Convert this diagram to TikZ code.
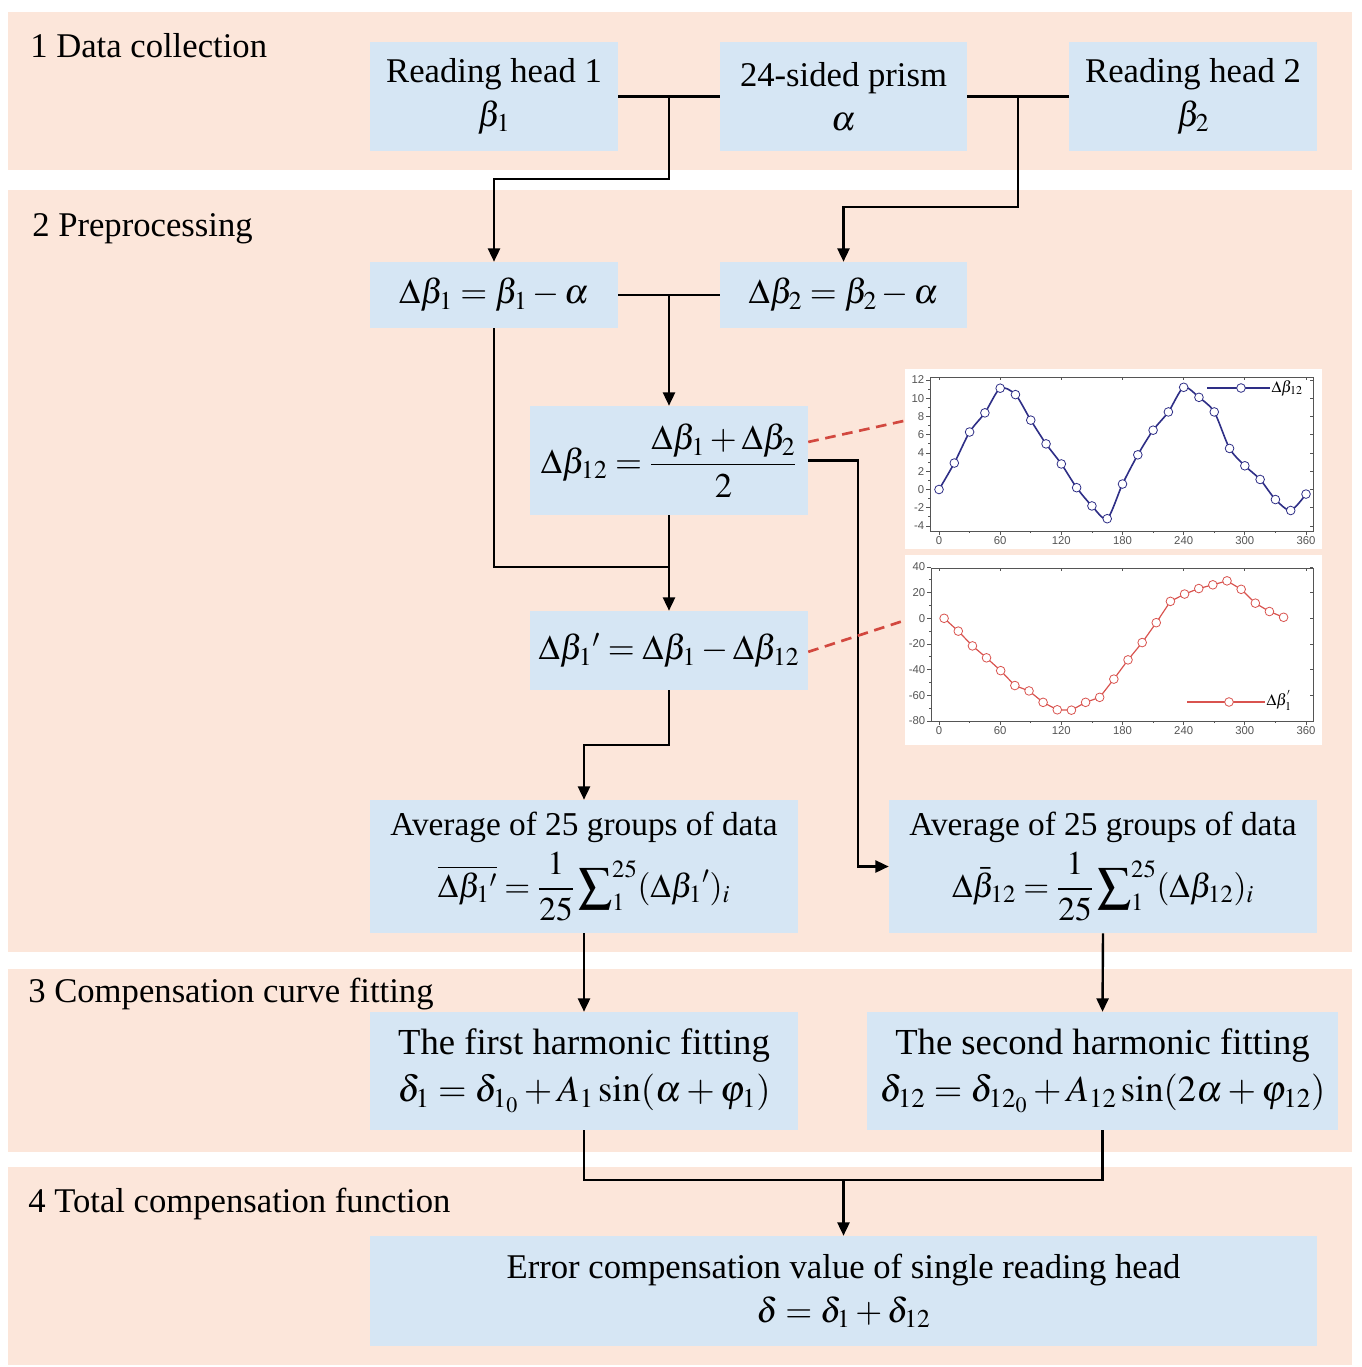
\documentclass[tikz,border=0pt]{standalone}
\usepackage{amsmath}
\usepackage{mathptmx}
\usepackage{fontspec}
\setmainfont{Liberation Serif}
\newfontfamily\plotfont{Liberation Sans}
\usetikzlibrary{arrows.meta}
\definecolor{bandc}{HTML}{FCE6DA}
\definecolor{boxc}{HTML}{D6E6F4}
\definecolor{navyc}{HTML}{2E2E86}
\definecolor{redc}{HTML}{D9534F}
\definecolor{dashc}{HTML}{D2483F}
\definecolor{axc}{HTML}{555555}
\begin{document}
\begin{tikzpicture}[x=0.75pt,y=-0.75pt,
  band/.style={fill=bandc,draw=none},
  box/.style={fill=boxc,draw=none,inner sep=0pt,align=center,font=\fontsize{26}{33}\selectfont},
  sect/.style={anchor=base west,inner sep=0pt,font=\fontsize{26}{30}\selectfont},
  conn/.style={line width=1.8pt},
  arr/.style={conn,-{Triangle[length=10pt,width=9pt]}},
  reddash/.style={dashc,line width=2pt,dash pattern=on 8pt off 5pt},
  tl/.style={font=\plotfont\fontsize{8.5}{9}\selectfont,inner sep=1pt},
  ax/.style={axc,line width=0.6pt},
  mkA/.style={circle,draw=navyc,fill=white,line width=0.6pt,inner sep=0pt,minimum size=6.5pt},
  mkB/.style={circle,draw=redc,fill=white,line width=0.6pt,inner sep=0pt,minimum size=6.5pt}
]
\useasboundingbox (0,0) rectangle (1362,1367);
\fill[white] (0,0) rectangle (1362,1367);
% bands
\fill[band] (8,12) rectangle (1352,170);
\fill[band] (8,190) rectangle (1352,952);
\fill[band] (8,969) rectangle (1352,1152);
\fill[band] (8,1167) rectangle (1352,1365);
% section labels
\node[sect] (s1) at (30,57) {1 Data collection};
\node[sect] (s2) at (32,236) {2 Preprocessing};
\node[sect] (s3) at (28,1002) {3 Compensation curve fitting};
\node[sect] (s4) at (28,1212) {4 Total compensation function};
% boxes
\node[box,minimum width=186pt,minimum height=81.75pt] (rh1) at (494,96.5) {Reading head 1\\ $\beta_1$};
\node[box,minimum width=185.25pt,minimum height=81.75pt] (prism) at (843.5,96.5) {24-sided prism\\ $\alpha$};
\node[box,minimum width=186pt,minimum height=81.75pt] (rh2) at (1193,96.5) {Reading head 2\\ $\beta_2$};
\node[box,minimum width=186pt,minimum height=49.5pt] (d1) at (494,295) {$\Delta\beta_1=\beta_1-\alpha$};
\node[box,minimum width=185.25pt,minimum height=49.5pt] (d2) at (843.5,295) {$\Delta\beta_2=\beta_2-\alpha$};
\node[box,minimum width=208.5pt,minimum height=81.75pt] (d12) at (669,460.5) {$\Delta\beta_{12}=\dfrac{\Delta\beta_1+\Delta\beta_2}{2}$};
\node[box,minimum width=208.5pt,minimum height=59.25pt] (d1p) at (669,650.5) {$\Delta\beta_1{}'=\Delta\beta_1-\Delta\beta_{12}$};
\node[box,minimum width=321pt,minimum height=99.75pt,font=\fontsize{25}{30}\selectfont] (avgL) at (584,866.5) {Average of 25 groups of data\\[6pt] $\overline{\Delta\beta_1{}'}=\dfrac{1}{25}\displaystyle\sum\nolimits_1^{25}(\Delta\beta_1{}')_i$};
\node[box,minimum width=321pt,minimum height=99.75pt,font=\fontsize{25}{30}\selectfont] (avgR) at (1103,866.5) {Average of 25 groups of data\\[6pt] $\Delta\bar{\beta}_{12}=\dfrac{1}{25}\displaystyle\sum\nolimits_1^{25}(\Delta\beta_{12})_i$};
\node[box,minimum width=321pt,minimum height=88.5pt,font=\fontsize{27.5}{35}\selectfont] (h1) at (584,1071) {The first harmonic fitting\\ $\delta_1=\delta_{1_0}+A_1\sin(\alpha+\varphi_1)$};
\node[box,minimum width=353.25pt,minimum height=88.5pt,font=\fontsize{27.5}{35}\selectfont] (h2) at (1102.5,1071) {The second harmonic fitting\\ $\delta_{12}=\delta_{12_0}+A_{12}\sin(2\alpha+\varphi_{12})$};
\node[box,minimum width=710.25pt,minimum height=82.5pt] (err) at (843.5,1291) {Error compensation value of single reading head\\ $\delta=\delta_1+\delta_{12}$};
% connectors
\coordinate (j1) at (669,96.5);
\coordinate (j2) at (1018,96.5);
\coordinate (j3) at (669,295);
\coordinate (j4) at (669,567);
\coordinate (j6) at (843.5,1180);
\draw[conn] (rh1.east) -- (prism.west);
\draw[conn] (prism.east) -- (rh2.west);
\draw[arr] (j1) -- ++(0,82.5) -| (d1.north);
\draw[arr] (j2) -- ++(0,110.5) -| (d2.north);
\draw[conn] (d1.east) -- (d2.west);
\draw[arr] (j3) -- (d12.north);
\draw[conn] (d1.south) |- (j4);
\draw[arr] (d12.south) -- (d1p.north);
\draw[arr] (d12.east) -- ++(50,0) |- (avgR.west);
\draw[arr] (d1p.south) -- ++(0,55) -| (avgL.north);
\draw[arr] (avgL.south) -- (h1.north);
\draw[arr] (avgR.south) -- (h2.north);
\draw[conn] (h1.south) -- ++(0,50) -| (h2.south);
\draw[arr] (j6) -- (err.north);
% plot backgrounds
\fill[white] (905,369) rectangle (1322,549);
\fill[white] (905,555) rectangle (1322,745);
\coordinate (pl1) at (908,420);
\coordinate (pl2) at (903,621);
\draw[reddash] ([yshift=13.9pt]d12.east) -- (pl1);
\draw[reddash] ([yshift=-1pt]d1p.east) -- (pl2);
% ---- plot 1
\draw[ax] (930,377) rectangle (1313,531);
\foreach \v in {-4,-2,...,12} {
  \draw[ax] (930,{489.5-\v*9.125}) -- ++(-4,0) node[tl,anchor=east] {\v};
  \draw[ax] (1313,{489.5-\v*9.125}) -- ++(-3,0);
}
\foreach \v in {-3,-1,...,11} {
  \draw[ax] (930,{489.5-\v*9.125}) -- ++(-2,0);
}
\foreach \d in {0,60,...,360} {
  \draw[ax] ({939+\d*1.01944},531) -- ++(0,4) node[tl,anchor=north] {\d};
  \draw[ax] ({939+\d*1.01944},377) -- ++(0,3);
}
\foreach \d in {30,90,...,330} {
  \draw[ax] ({939+\d*1.01944},531) -- ++(0,2);
}
\begin{scope}[shift={(939,489.5)},xscale=1.01944,yscale=-9.125]
\draw[navyc,line width=1.2pt] plot[smooth,tension=0.45] coordinates {(0,0) (15,2.9) (30,6.3) (45,8.4) (60,11.1) (75,10.4) (90,7.6) (105,5.0) (120,2.8) (135,0.2) (150,-1.8) (165,-3.2) (180,0.6) (195,3.8) (210,6.5) (225,8.5) (240,11.2) (255,10.1) (270,8.5) (285,4.5) (300,2.6) (315,1.1) (330,-1.1) (345,-2.3) (360,-0.5)};
\foreach \x/\v in {0/0,15/2.9,30/6.3,45/8.4,60/11.1,75/10.4,90/7.6,105/5.0,120/2.8,135/0.2,150/-1.8,165/-3.2,180/0.6,195/3.8,210/6.5,225/8.5,240/11.2,255/10.1,270/8.5,285/4.5,300/2.6,315/1.1,330/-1.1,345/-2.3,360/-0.5}
  \node[mkA] at (\x,\v) {};
\end{scope}
\coordinate (lg1) at (1207,388);
\draw[navyc,line width=1.2pt] (lg1) -- ++(63,0);
\node[mkA] (lm1) at (1241,388) {};
\node[anchor=west,inner sep=1pt,font=\fontsize{12}{13}\selectfont] (lt1) at (1270,388) {$\Delta\beta_{12}$};
% ---- plot 2
\draw[ax] (931,568) rectangle (1313,721);
\foreach \v in {-80,-60,...,40} {
  \draw[ax] (931,{618.3-\v*1.283}) -- ++(-4,0) node[tl,anchor=east] {\v};
  \draw[ax] (1313,{618.3-\v*1.283}) -- ++(-3,0);
}
\foreach \v in {-70,-50,...,30} {
  \draw[ax] (931,{618.3-\v*1.283}) -- ++(-2,0);
}
\foreach \d in {0,60,...,360} {
  \draw[ax] ({939+\d*1.01944},721) -- ++(0,4) node[tl,anchor=north] {\d};
  \draw[ax] ({939+\d*1.01944},568) -- ++(0,3);
}
\foreach \d in {30,90,...,330} {
  \draw[ax] ({939+\d*1.01944},721) -- ++(0,2);
}
\begin{scope}[shift={(939,618.3)},xscale=1.01944,yscale=-1.283]
\draw[redc,line width=0.9pt] plot coordinates {(5,0) (18.9,-10) (32.8,-21.5) (46.6,-30.8) (60.5,-40.8) (74.4,-52.4) (88.3,-56.6) (102.1,-65.5) (116,-71.3) (129.9,-71.6) (143.8,-65.5) (157.6,-61.6) (171.5,-47.4) (185.4,-32.4) (199.3,-18.9) (213.1,-3.4) (227,13.2) (240.9,18.9) (254.8,23.2) (268.6,26.1) (282.5,29.2) (296.4,22.6) (310.3,11.8) (324.1,5.3) (338,0.8)};
\foreach \x/\v in {5/0,18.9/-10,32.8/-21.5,46.6/-30.8,60.5/-40.8,74.4/-52.4,88.3/-56.6,102.1/-65.5,116/-71.3,129.9/-71.6,143.8/-65.5,157.6/-61.6,171.5/-47.4,185.4/-32.4,199.3/-18.9,213.1/-3.4,227/13.2,240.9/18.9,254.8/23.2,268.6/26.1,282.5/29.2,296.4/22.6,310.3/11.8,324.1/5.3,338/0.8}
  \node[mkB] at (\x,\v) {};
\end{scope}
\coordinate (lg2) at (1187,702);
\draw[redc,line width=0.9pt] (lg2) -- ++(78,0);
\node[mkB] (lm2) at (1229,702) {};
\node[anchor=west,inner sep=1pt,font=\fontsize{12}{13}\selectfont] (lt2) at (1265,700) {$\Delta\beta_1^{'}$};
\end{tikzpicture}
\end{document}
